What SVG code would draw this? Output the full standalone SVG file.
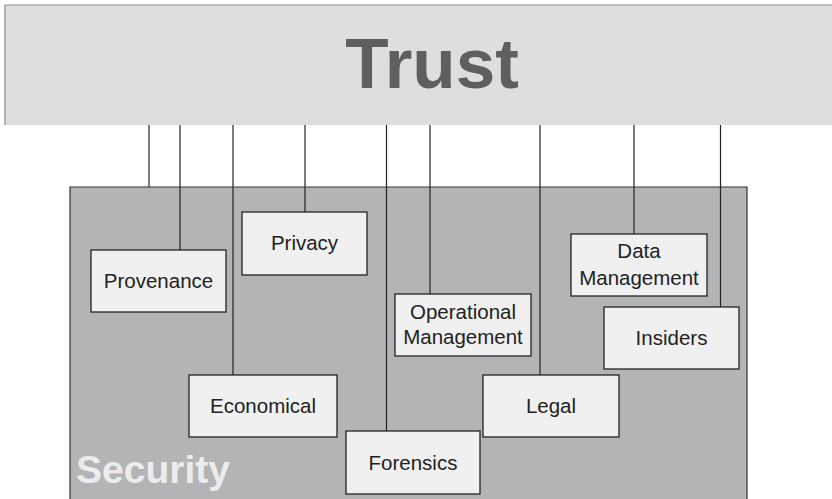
<svg xmlns="http://www.w3.org/2000/svg" width="832" height="499" viewBox="0 0 832 499">
<style>
.band{fill:#dedede;}
.edge{stroke:#8a8a8a;stroke-width:1.2;fill:none;}
.sec{fill:#b3b4b6;stroke:#333;stroke-width:1.2;}
.box{fill:#f0f0f0;stroke:#222;stroke-width:1.3;}
.lbl{font-family:"Liberation Sans",Arial,sans-serif;font-size:20.5px;fill:#222;text-anchor:middle;}
.conn line{stroke:#222;stroke-width:1.2;}
</style>
<rect width="832" height="499" fill="#ffffff"/>
<g id="trust">
<rect class="band" x="5" y="5" width="827" height="120"/>
<path class="edge" d="M5,125 V5 H832"/>
<text x="432" y="88" font-family="Liberation Sans,Arial,sans-serif" font-weight="bold" font-size="71" fill="#5f5f5f" text-anchor="middle">Trust</text>
</g>
<g id="security">
<path class="sec" d="M70,500 V187 H747 V500"/>
<text x="76" y="483" font-family="Liberation Sans,Arial,sans-serif" font-weight="bold" font-size="39" fill="#ececec">Security</text>
</g>
<g class="conn" id="connectors">
<line x1="149" y1="125" x2="149" y2="187"/>
<line x1="180" y1="125" x2="180" y2="250"/>
<line x1="233" y1="125" x2="233" y2="375"/>
<line x1="305" y1="125" x2="305" y2="212"/>
<line x1="386.5" y1="125" x2="386.5" y2="431"/>
<line x1="430" y1="125" x2="430" y2="294"/>
<line x1="540" y1="125" x2="540" y2="375"/>
<line x1="634" y1="125" x2="634" y2="234"/>
<line x1="720.5" y1="125" x2="720.5" y2="307"/>
</g>
<g id="provenance"><rect class="box" x="91" y="250" width="135" height="62"/><text class="lbl" x="158.5" y="288">Provenance</text></g>
<g id="privacy"><rect class="box" x="242" y="212" width="125" height="63"/><text class="lbl" x="304.5" y="250">Privacy</text></g>
<g id="economical"><rect class="box" x="189" y="375" width="148" height="62"/><text class="lbl" x="263" y="413">Economical</text></g>
<g id="forensics"><rect class="box" x="346" y="431" width="134" height="63"/><text class="lbl" x="413" y="470">Forensics</text></g>
<g id="operational"><rect class="box" x="395" y="294" width="136" height="62"/><text class="lbl" x="463" y="319">Operational</text><text class="lbl" x="463" y="344">Management</text></g>
<g id="legal"><rect class="box" x="483" y="375" width="136" height="62"/><text class="lbl" x="551" y="413">Legal</text></g>
<g id="datamanagement"><rect class="box" x="571" y="234" width="136" height="62"/><text class="lbl" x="639" y="258">Data</text><text class="lbl" x="639" y="285">Management</text></g>
<g id="insiders"><rect class="box" x="604" y="307" width="135" height="62"/><text class="lbl" x="671.5" y="345">Insiders</text></g>
</svg>
